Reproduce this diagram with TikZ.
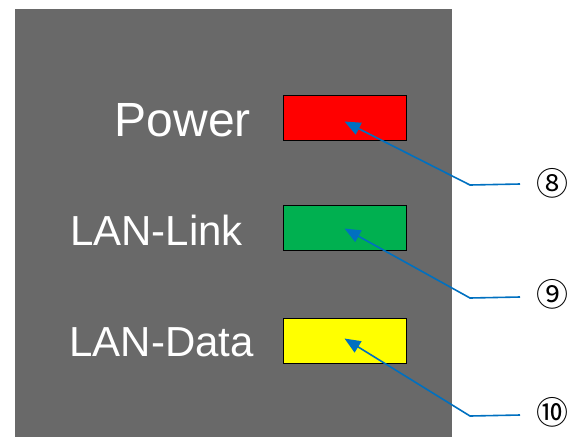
\documentclass[tikz,border=0pt]{standalone}
\usepackage{fontspec}
\setmainfont{Liberation Sans}
\newfontfamily\circfont{Noto Sans CJK JP}
\usetikzlibrary{arrows.meta}
\definecolor{panelgray}{RGB}{105,105,105}
\definecolor{ledred}{RGB}{255,0,0}
\definecolor{ledgreen}{RGB}{0,176,80}
\definecolor{ledyellow}{RGB}{255,255,0}
\definecolor{calloutblue}{RGB}{0,112,192}

\begin{document}
\begin{tikzpicture}[x=1pt, y=-1pt,
    led/.style = {draw=black, line width=1pt, minimum width=123pt, minimum height=45pt, inner sep=0pt},
    lbl/.style = {text=white, anchor=east, inner sep=0pt, font=\fontsize{42}{44}\selectfont},
    num/.style = {inner sep=0pt, font=\circfont\fontsize{32}{32}\selectfont},
    callout/.style = {draw=calloutblue, line width=1.6pt, {Triangle[length=16pt,width=13pt]}-}]
    \useasboundingbox (0,0) rectangle (580,437);
    \fill[panelgray] (15,9) rectangle (452,437);

    \node[led, fill=ledred] (pwr) at (344.5,117.5) {};
    \node[led, fill=ledgreen] (lnk) at (344.5,227.5) {};
    \node[led, fill=ledyellow] (dat) at (344.5,340.5) {};

    \node[lbl, font=\fontsize{48}{50}\selectfont] (pwrlbl) at (251,120) {Power};
    \node[lbl] (lnklbl) at (243,230) {LAN-Link};
    \node[lbl] (datlbl) at (254,342) {LAN-Data};

    \node[num] (n8) at (552,183) {⑧};
    \node[num] (n9) at (552,294) {⑨};
    \node[num] (n10) at (552,412) {⑩};

    \coordinate (e8) at (520,184);
    \coordinate (e9) at (520,297);
    \coordinate (e10) at (520,415);

    \draw[callout] ([yshift=-4pt]pwr.center) -- (470,185) -- (e8);
    \draw[callout] ([yshift=-1pt]lnk.center) -- (470,298) -- (e9);
    \draw[callout] ([yshift=2pt]dat.center) -- (470,416) -- (e10);
\end{tikzpicture}
\end{document}
